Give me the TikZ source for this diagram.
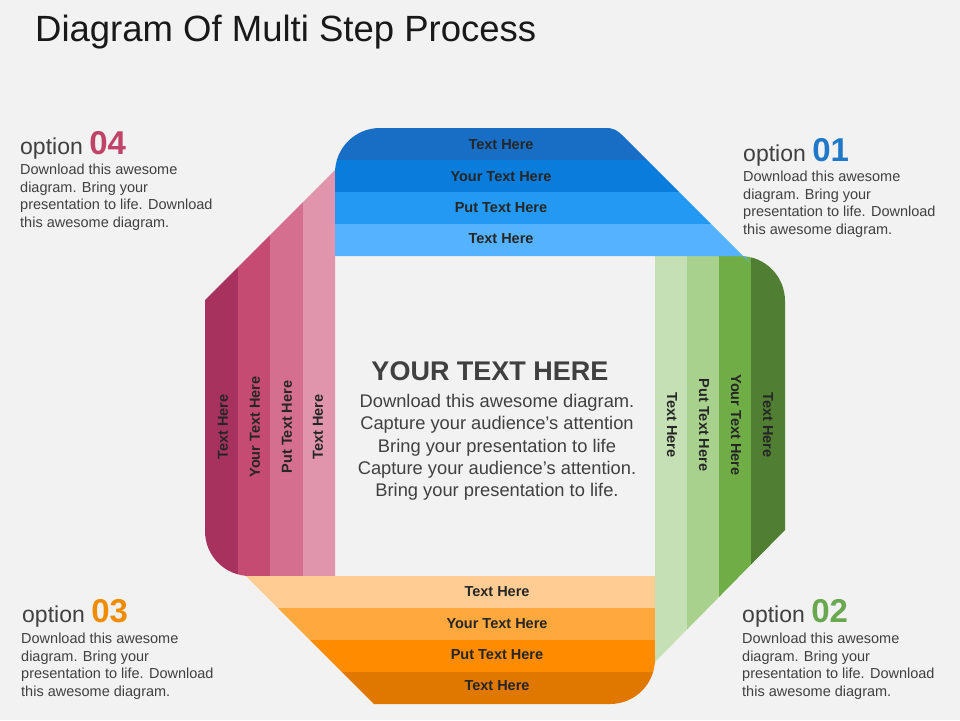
\documentclass[tikz,border=0pt]{standalone}
\usepackage{fontspec}
\setmainfont{Liberation Sans}
\definecolor{bg}{HTML}{F2F2F2}
\definecolor{txt}{HTML}{404040}
\definecolor{bA}{HTML}{176EC4}\definecolor{bB}{HTML}{0A7CDB}\definecolor{bC}{HTML}{2399F3}\definecolor{bD}{HTML}{55B2FF}
\definecolor{gA}{HTML}{C5E0B4}\definecolor{gB}{HTML}{A9D18E}\definecolor{gC}{HTML}{70AD47}\definecolor{gD}{HTML}{507E32}
\definecolor{oA}{HTML}{FFCD94}\definecolor{oB}{HTML}{FFA83D}\definecolor{oC}{HTML}{FF8C00}\definecolor{oD}{HTML}{E07800}
\definecolor{pA}{HTML}{A8325E}\definecolor{pB}{HTML}{C64B73}\definecolor{pC}{HTML}{D46F8F}\definecolor{pD}{HTML}{E095AD}
\definecolor{c1}{HTML}{1F78C8}\definecolor{c2}{HTML}{6AA84F}\definecolor{c3}{HTML}{F08C00}\definecolor{c4}{HTML}{C0436A}
\tikzset{
 lab/.style={font=\bfseries\fontsize{14.5}{16}\selectfont, text=black!85, inner sep=0pt},
 opt/.style={anchor=base west, inner sep=0pt, text=txt, font=\fontsize{23}{26}\selectfont},
 desc/.style={anchor=north west, inner sep=0pt, text=txt, align=left, font=\fontsize{14.5}{17.5}\selectfont},
}
\begin{document}
\begin{tikzpicture}[x=1pt,y=-1pt]
\fill[bg] (0,0) rectangle (960,720);
\useasboundingbox (0,0) rectangle (960,720);
\node[anchor=base west, inner sep=0pt, font=\fontsize{36.5}{40}\selectfont, text=black!90] (title) at (35,41) {Diagram Of Multi Step Process};
% pink band (left)
\begin{scope}
\clip (335,576) -- (250,576) .. controls (225,576) and (205,556) .. (205,531) -- (205,300) -- (358,147) -- (335,190) -- cycle;
\fill[pA] (205,100) rectangle (238,600);
\fill[pB] (238,100) rectangle (270,600);
\fill[pC] (270,100) rectangle (303,600);
\fill[pD] (303,100) rectangle (360,600);
\end{scope}
% orange band (bottom)
\begin{scope}
\clip (655,576) -- (655,659) .. controls (655,684) and (635,704) .. (610,704) -- (374,704) -- (246,576) -- cycle;
\fill[oA] (200,576) rectangle (700,608);
\fill[oB] (200,608) rectangle (700,640);
\fill[oC] (200,640) rectangle (700,672);
\fill[oD] (200,672) rectangle (700,710);
\end{scope}
% green band (right)
\begin{scope}
\clip (655,256) -- (740,256) .. controls (765,256) and (785,276) .. (785,301) -- (785,530) -- (655,662) -- cycle;
\fill[gA] (650,250) rectangle (687,700);
\fill[gB] (687,250) rectangle (719,700);
\fill[gC] (719,250) rectangle (751,700);
\fill[gD] (751,250) rectangle (790,700);
\end{scope}
% blue band (top)
\begin{scope}
\clip (335,256) -- (335,173) .. controls (335,148) and (355,128) .. (380,128) -- (606,128) .. controls (614,128) and (618,131) .. (622,135) -- (750,263) -- (745,256) -- cycle;
\fill[bA] (330,128) rectangle (800,160);
\fill[bB] (330,160) rectangle (800,192);
\fill[bC] (330,192) rectangle (800,224);
\fill[bD] (330,224) rectangle (800,265);
\end{scope}
% labels
\node[lab] (b1) at (501,145) {Text Here};
\node[lab] (b2) at (501,177) {Your Text Here};
\node[lab] (b3) at (501,208) {Put Text Here};
\node[lab] (b4) at (501,239) {Text Here};
\node[lab] (o1) at (497,592) {Text Here};
\node[lab] (o2) at (497,624) {Your Text Here};
\node[lab] (o3) at (497,655) {Put Text Here};
\node[lab] (o4) at (497,686) {Text Here};
\node[lab,rotate=-90] (g1) at (672,425) {Text Here};
\node[lab,rotate=-90] (g2) at (704,425) {Put Text Here};
\node[lab,rotate=-90] (g3) at (736,425) {Your Text Here};
\node[lab,rotate=-90] (g4) at (768,425) {Text Here};
\node[lab,rotate=90] (p1) at (223,427) {Text Here};
\node[lab,rotate=90] (p2) at (255,427) {Your Text Here};
\node[lab,rotate=90] (p3) at (287,427) {Put Text Here};
\node[lab,rotate=90] (p4) at (318,427) {Text Here};
% center
\node[inner sep=0pt, text=txt, font=\bfseries\fontsize{27}{30}\selectfont] (ct) at (490,371) {YOUR TEXT HERE};
\node[inner sep=0pt, anchor=north, text=txt, align=center, font=\fontsize{18.3}{22.3}\selectfont] (cb) at (497,394) {Download this awesome diagram.\\Capture your audience’s attention\\Bring your presentation to life\\Capture your audience’s attention.\\Bring your presentation to life.};
% options
\node[opt] (o4t) at (20,154) {option \textcolor{c4}{\bfseries\fontsize{33}{36}\selectfont 04}};
\node[desc] (o4d) at (20,164) {Download this awesome\\diagram. Bring your\\presentation to life. Download\\this awesome diagram.};
\node[opt] (o1t) at (743,161) {option \textcolor{c1}{\bfseries\fontsize{33}{36}\selectfont 01}};
\node[desc] (o1d) at (743,171) {Download this awesome\\diagram. Bring your\\presentation to life. Download\\this awesome diagram.};
\node[opt] (o3t) at (22,622) {option \textcolor{c3}{\bfseries\fontsize{33}{36}\selectfont 03}};
\node[desc] (o3d) at (21,633) {Download this awesome\\diagram. Bring your\\presentation to life. Download\\this awesome diagram.};
\node[opt] (o2t) at (742,622) {option \textcolor{c2}{\bfseries\fontsize{33}{36}\selectfont 02}};
\node[desc] (o2d) at (742,633) {Download this awesome\\diagram. Bring your\\presentation to life. Download\\this awesome diagram.};
\end{tikzpicture}
\end{document}
